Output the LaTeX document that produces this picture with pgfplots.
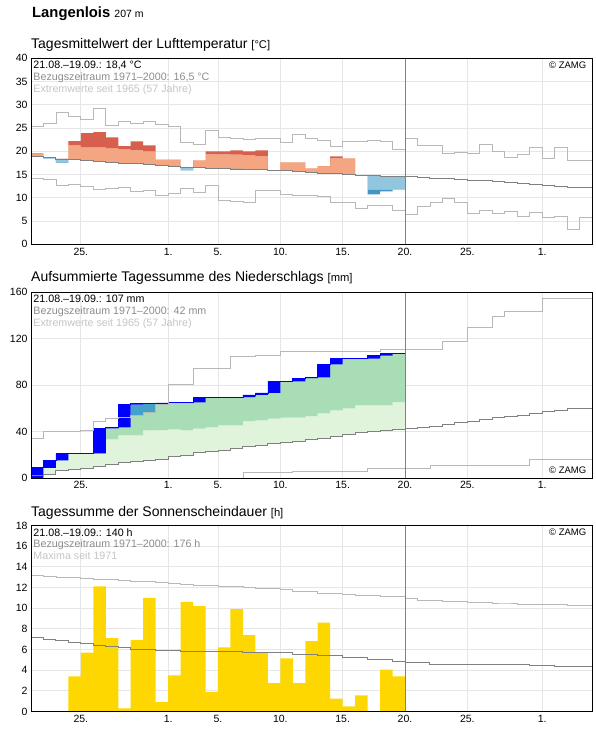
\documentclass[border=0pt]{standalone}
\usepackage{fontspec}
\setmainfont{Liberation Sans}
\usepackage{pgfplots}
\pgfplotsset{compat=1.18}
\usepackage{pgfplotstable}
\usepgfplotslibrary{fillbetween}

\definecolor{gridc}{HTML}{E6E6E6}
\definecolor{meanc}{HTML}{808080}
\definecolor{extc}{HTML}{B8B8B8}
\definecolor{salmon}{HTML}{F4A582}
\definecolor{darkred}{HTML}{D6604D}
\definecolor{lblue}{HTML}{92C5DE}
\definecolor{dblue}{HTML}{4393C3}
\definecolor{lgreen}{HTML}{E0F3DB}
\definecolor{mgreen}{HTML}{A8DDB5}
\definecolor{sblue}{HTML}{43A2CA}
\definecolor{rainblue}{HTML}{0000FF}
\definecolor{sun}{HTML}{FFD700}
\definecolor{txtgray}{HTML}{8C8C8C}
\definecolor{txtlight}{HTML}{C4C4C4}

% temperature: daily mean (1971-2000), value, upper/lower thresholds
\pgfplotstableread{
x M V Tu Tl
0 18.90 19.60 21.90 15.90
1 18.60 18.40 21.60 15.60
2 18.35 17.50 21.35 15.35
3 18.20 22.20 21.30 15.20
4 18.00 23.90 20.90 15.00
5 17.80 24.10 20.90 14.80
6 17.60 23.00 20.70 14.60
7 17.40 21.10 20.40 14.40
8 17.35 22.15 20.20 14.35
9 17.10 21.30 20.00 14.10
10 16.90 18.20 19.90 13.90
11 16.70 18.20 19.70 13.70
12 16.60 15.90 19.60 13.60
13 16.50 18.06 19.50 13.50
14 16.35 20.00 19.35 13.35
15 16.30 20.00 19.35 13.30
16 16.20 20.20 19.30 13.20
17 16.10 20.00 19.10 13.10
18 16.00 20.20 18.90 13.00
19 15.90 15.95 18.90 12.90
20 15.80 17.60 18.80 12.80
21 15.60 17.60 18.60 12.60
22 15.40 16.35 18.40 12.40
23 15.30 16.80 18.30 12.30
24 15.20 18.90 18.50 12.20
25 15.00 18.50 18.60 12.00
26 14.90 14.70 17.90 11.90
27 14.80 10.75 17.80 11.75
28 14.65 11.40 17.65 11.75
29 14.55 11.75 17.55 11.75
30 14.55 11.75 17.55 11.75
}\tempdata

\pgfplotstableread{
x M Mx Mn
0 18.90 25.40 14.10
1 18.60 25.95 13.90
2 18.35 28.30 12.60
3 18.20 27.50 12.80
4 18.00 26.90 12.40
5 17.80 29.20 11.75
6 17.60 25.60 12.00
7 17.40 26.50 12.20
8 17.35 25.95 11.30
9 17.10 26.50 11.50
10 16.90 25.80 10.50
11 16.70 25.30 10.90
12 16.60 21.90 12.00
13 16.50 21.50 11.10
14 16.35 24.50 12.60
15 16.30 22.90 9.50
16 16.20 22.70 9.20
17 16.10 22.50 9.00
18 16.00 22.70 11.50
19 15.90 22.70 11.50
20 15.80 22.00 10.70
21 15.60 23.65 10.50
22 15.40 22.70 10.50
23 15.30 22.30 10.25
24 15.20 21.00 9.00
25 15.00 22.10 9.00
26 14.90 22.10 7.70
27 14.80 22.30 8.30
28 14.65 22.10 8.30
29 14.55 20.40 7.20
30 14.55 22.70 6.40
31 14.30 21.20 8.20
32 14.10 21.20 9.10
33 14.10 19.50 9.80
34 13.90 19.70 9.00
35 13.70 19.50 6.70
36 13.70 21.40 7.20
37 13.50 19.90 6.60
38 13.30 18.60 7.00
39 13.05 19.30 5.95
40 12.80 20.80 6.80
41 12.60 18.40 5.70
42 12.40 20.80 6.10
43 12.20 18.05 3.15
44 12.20 18.05 5.70
45 12.20 18.05 5.70
}\templines

% precipitation: mean cum., upper threshold, max cum., actual cum., previous day cum.
\pgfplotstableread{
x M L Mx C Cp
0 2.2 24.0 33.8 8.8 0.0
1 3.0 25.0 40.1 15.1 8.8
2 6.2 27.0 40.1 21.1 15.1
3 7.3 28.0 40.1 21.1 21.1
4 8.5 30.0 41.2 21.1 21.1
5 9.6 31.0 49.0 42.7 21.1
6 11.6 33.2 51.0 43.5 42.7
7 13.6 36.6 51.9 63.2 43.5
8 14.2 36.6 53.9 63.8 63.2
9 15.4 40.9 56.5 63.8 63.8
10 15.9 41.2 63.0 64.6 63.8
11 18.3 41.8 80.6 65.0 64.6
12 19.7 40.9 80.6 65.0 65.0
13 21.7 42.4 94.1 69.6 65.0
14 23.1 43.5 94.1 69.6 69.6
15 24.0 45.3 94.1 69.6 69.6
16 25.2 45.3 104.5 69.6 69.6
17 26.9 49.0 104.5 71.5 69.6
18 27.8 49.6 105.6 73.2 71.5
19 29.5 51.0 105.6 82.8 73.2
20 30.9 51.9 108.8 83.1 82.8
21 31.7 51.9 109.3 86.0 83.1
22 32.9 53.3 109.3 86.5 86.0
23 34.3 55.6 109.3 97.8 86.5
24 35.5 58.2 109.3 102.7 97.8
25 37.2 59.9 109.3 102.7 102.7
26 39.5 62.5 109.3 102.7 102.7
27 40.4 62.5 109.3 105.2 102.7
28 41.2 62.5 110.5 107.0 105.2
29 42.1 65.3 110.5 107.0 107.0
30 42.1 65.3 110.5 107.0 107.0
}\raindata

\pgfplotstableread{
x M Mx Mn
0 2.2 33.8 0
1 3.0 40.1 0
2 6.2 40.1 0
3 7.3 40.1 0
4 8.5 41.2 0
5 9.6 49.0 0
6 11.6 51.0 0
7 13.6 51.9 0
8 14.2 53.9 0
9 15.4 56.5 0
10 15.9 63.0 0
11 18.3 80.6 0
12 19.7 80.6 0
13 21.7 94.1 0
14 23.1 94.1 0
15 24.0 94.1 0
16 25.2 104.5 0
17 26.9 104.5 4.5
18 27.8 105.6 4.5
19 29.5 105.6 4.5
20 30.9 108.8 4.5
21 31.7 109.3 6.0
22 32.9 109.3 6.0
23 34.3 109.3 6.0
24 35.5 109.3 6.0
25 37.2 109.3 6.0
26 39.5 109.3 6.0
27 40.4 109.3 8.5
28 41.2 110.5 8.5
29 42.1 110.5 8.5
30 42.7 110.5 8.5
31 43.8 110.5 8.5
32 44.7 110.5 10.5
33 46.1 117.1 10.5
34 47.6 117.1 10.5
35 49.0 129.5 10.5
36 50.4 129.5 10.5
37 51.9 139.0 10.5
38 52.8 143.3 10.5
39 54.2 143.3 10.5
40 55.6 143.3 16.0
41 57.1 154.5 16.0
42 58.2 154.5 16.0
43 59.7 154.5 16.0
44 59.7 154.5 16.0
45 59.7 154.5 16.0
}\rainlines

\pgfplotstableread{
x S
0 0
1 0
2 0
3 3.4
4 5.7
5 12.1
6 7.1
7 0.3
8 6.9
9 11.0
10 0.9
11 3.5
12 10.6
13 10.2
14 1.9
15 6.2
16 9.9
17 7.4
18 5.75
19 2.75
20 5.15
21 2.75
22 6.8
23 8.6
24 1.25
25 0.5
26 1.55
27 0
28 4.05
29 3.4
30 3.4
}\sundata

\pgfplotstableread{
x M Mx
0 7.15 13.2
1 7.00 13.1
2 6.85 13.0
3 6.70 12.95
4 6.60 12.85
5 6.35 12.8
6 6.30 12.75
7 6.20 12.65
8 6.00 12.6
9 6.00 12.6
10 5.90 12.45
11 5.90 12.4
12 5.80 12.3
13 5.80 12.2
14 5.80 12.2
15 5.80 12.15
16 5.80 12.1
17 5.75 12.0
18 5.75 11.95
19 5.70 11.9
20 5.70 11.8
21 5.55 11.6
22 5.55 11.6
23 5.45 11.4
24 5.45 11.4
25 5.20 11.3
26 5.20 11.2
27 5.00 11.2
28 5.00 11.1
29 4.80 11.1
30 4.75 10.9
31 4.75 10.8
32 4.60 10.8
33 4.60 10.7
34 4.60 10.7
35 4.60 10.55
36 4.60 10.55
37 4.55 10.5
38 4.55 10.5
39 4.55 10.4
40 4.45 10.4
41 4.45 10.4
42 4.35 10.4
43 4.35 10.25
44 4.35 10.25
45 4.35 10.25
}\sunlines

\pgfplotsset{
  zamg/.style={
    scale only axis, width=561pt, height=186pt,
    anchor=south west,
    xmin=0, xmax=45,
    xtick={4,11,15,20,25,30,35,41},
    xticklabels={25.,1.,5.,10.,15.,20.,25.,1.},
    grid=major,
    major grid style={draw=gridc, line width=0.8pt},
    major tick length=0pt,
    axis line style={line width=0.9pt},
    tick label style={font=\fontsize{10.5}{12}\selectfont},
    /pgf/number format/assume math mode=true,
    clip=false,
  },
  tline/.style={const plot, line width=0.8pt, forget plot},
  hid/.style={const plot, draw=none, forget plot},
}
\tikzset{
  ttl/.style={anchor=base west, font=\fontsize{14}{16}\selectfont, inner sep=0pt},
  inf/.style={anchor=base west, font=\fontsize{10.7}{12}\selectfont, inner sep=0pt},
  cpr/.style={anchor=base east, font=\fontsize{9.5}{11}\selectfont, inner sep=0pt},
}

\begin{document}
\begin{tikzpicture}
\path (0,0) rectangle (596pt,729pt);

% ---------------- Temperature ----------------
\begin{axis}[zamg, at={(31pt,484.7pt)}, ymin=0, ymax=40, ytick={0,5,...,40}]
\addplot[hid, name path=tM] table[x=x,y=M]{\tempdata};
\addplot[hid, name path=tS] table[x=x,y expr={max(\thisrow{M},min(\thisrow{V},\thisrow{Tu}))}]{\tempdata};
\addplot[hid, name path=tR] table[x=x,y expr={max(\thisrow{V},\thisrow{M})}]{\tempdata};
\addplot[hid, name path=tB] table[x=x,y expr={min(\thisrow{M},max(\thisrow{V},\thisrow{Tl}))}]{\tempdata};
\addplot[hid, name path=tD] table[x=x,y expr={min(\thisrow{V},\thisrow{M})}]{\tempdata};
\addplot[fill=salmon, draw=none] fill between[of=tM and tS];
\addplot[fill=darkred, draw=none] fill between[of=tS and tR];
\addplot[fill=lblue, draw=none] fill between[of=tB and tM];
\addplot[fill=dblue, draw=none] fill between[of=tD and tB];
\addplot[tline, extc] table[x=x,y=Mx]{\templines};
\addplot[tline, extc] table[x=x,y=Mn]{\templines};
\addplot[tline, meanc, line width=0.9pt] table[x=x,y=M]{\templines};
\addplot[meanc, line width=0.8pt, forget plot] coordinates {(30,0) (30,40)};
\draw[line width=0.9pt] (rel axis cs:0,0) rectangle (rel axis cs:1,1);
\node[anchor=base west, inner sep=0pt, xshift=1pt, yshift=41pt, font=\bfseries\fontsize{14.8}{16}\selectfont] at (rel axis cs:0,1) {Langenlois {\mdseries\fontsize{10.5}{12}\selectfont 207 m}};
\node[ttl, yshift=10pt] at (rel axis cs:0,1) {Tagesmittelwert der Lufttemperatur {\fontsize{11.2}{12}\selectfont [°C]}};
\node[inf, xshift=2.3pt, yshift=-10.5pt] at (rel axis cs:0,1) {21.08.–19.09.: 18,4 °C};
\node[inf, xshift=2.3pt, yshift=-22.3pt, text=txtgray] at (rel axis cs:0,1) {Bezugszeitraum 1971–2000: 16,5 °C};
\node[inf, xshift=2.3pt, yshift=-34.1pt, text=txtlight] at (rel axis cs:0,1) {Extremwerte seit 1965 (57 Jahre)};
\node[cpr, xshift=-5.5pt, yshift=-10pt] at (rel axis cs:1,1) {© ZAMG};
\end{axis}

% ---------------- Precipitation ----------------
\begin{axis}[zamg, at={(31pt,251pt)}, ymin=0, ymax=160, ytick={0,40,...,160}]
\addplot[hid, name path=pM] table[x=x,y=M]{\raindata};
\addplot[hid, name path=pL] table[x=x,y expr={max(\thisrow{M},min(\thisrow{Cp},\thisrow{L}))}]{\raindata};
\addplot[hid, name path=pG] table[x=x,y expr={max(\thisrow{M},min(\thisrow{Cp},\thisrow{Mx}))}]{\raindata};
\addplot[hid, name path=pP] table[x=x,y expr={max(\thisrow{M},\thisrow{Cp})}]{\raindata};
\addplot[hid, name path=pCp] table[x=x,y=Cp]{\raindata};
\addplot[hid, name path=pC] table[x=x,y=C]{\raindata};
\addplot[fill=lgreen, draw=none] fill between[of=pM and pL];
\addplot[fill=mgreen, draw=none] fill between[of=pL and pG];
\addplot[fill=sblue, draw=none] fill between[of=pG and pP];
\addplot[fill=rainblue, draw=none] fill between[of=pCp and pC];
\addplot[tline, rainblue, line width=0.7pt] table[x=x,y=C]{\raindata};
\addplot[tline, extc] table[x=x,y=Mx]{\rainlines};
\addplot[tline, extc] table[x=x,y=Mn]{\rainlines};
\addplot[tline, meanc, line width=0.9pt] table[x=x,y=M]{\rainlines};
\addplot[meanc, line width=0.8pt, forget plot] coordinates {(30,0) (30,160)};
\draw[line width=0.9pt] (rel axis cs:0,0) rectangle (rel axis cs:1,1);
\node[ttl, yshift=10pt] at (rel axis cs:0,1) {Aufsummierte Tagessumme des Niederschlags {\fontsize{11.2}{12}\selectfont [mm]}};
\node[inf, xshift=2.3pt, yshift=-10.5pt] at (rel axis cs:0,1) {21.08.–19.09.: 107 mm};
\node[inf, xshift=2.3pt, yshift=-22.3pt, text=txtgray] at (rel axis cs:0,1) {Bezugszeitraum 1971–2000: 42 mm};
\node[inf, xshift=2.3pt, yshift=-34.1pt, text=txtlight] at (rel axis cs:0,1) {Extremwerte seit 1965 (57 Jahre)};
\node[cpr, xshift=-5.5pt, yshift=4pt] at (rel axis cs:1,0) {© ZAMG};
\end{axis}

% ---------------- Sunshine ----------------
\begin{axis}[zamg, at={(31pt,17.5pt)}, ymin=0, ymax=18, ytick={0,2,...,18}]
\addplot[const plot, fill=sun, draw=none, forget plot] table[x=x,y=S]{\sundata} \closedcycle;
\addplot[tline, extc] table[x=x,y=Mx]{\sunlines};
\addplot[tline, meanc, line width=0.9pt] table[x=x,y=M]{\sunlines};
\addplot[meanc, line width=0.8pt, forget plot] coordinates {(30,0) (30,18)};
\draw[line width=0.9pt] (rel axis cs:0,0) rectangle (rel axis cs:1,1);
\node[ttl, yshift=9.5pt] at (rel axis cs:0,1) {Tagessumme der Sonnenscheindauer {\fontsize{11.2}{12}\selectfont [h]}};
\node[inf, xshift=2.3pt, yshift=-10.5pt] at (rel axis cs:0,1) {21.08.–19.09.: 140 h};
\node[inf, xshift=2.3pt, yshift=-22.3pt, text=txtgray] at (rel axis cs:0,1) {Bezugszeitraum 1971–2000: 176 h};
\node[inf, xshift=2.3pt, yshift=-34.1pt, text=txtlight] at (rel axis cs:0,1) {Maxima seit 1971};
\node[cpr, xshift=-5.5pt, yshift=-10pt] at (rel axis cs:1,1) {© ZAMG};
\end{axis}
\end{tikzpicture}
\end{document}
